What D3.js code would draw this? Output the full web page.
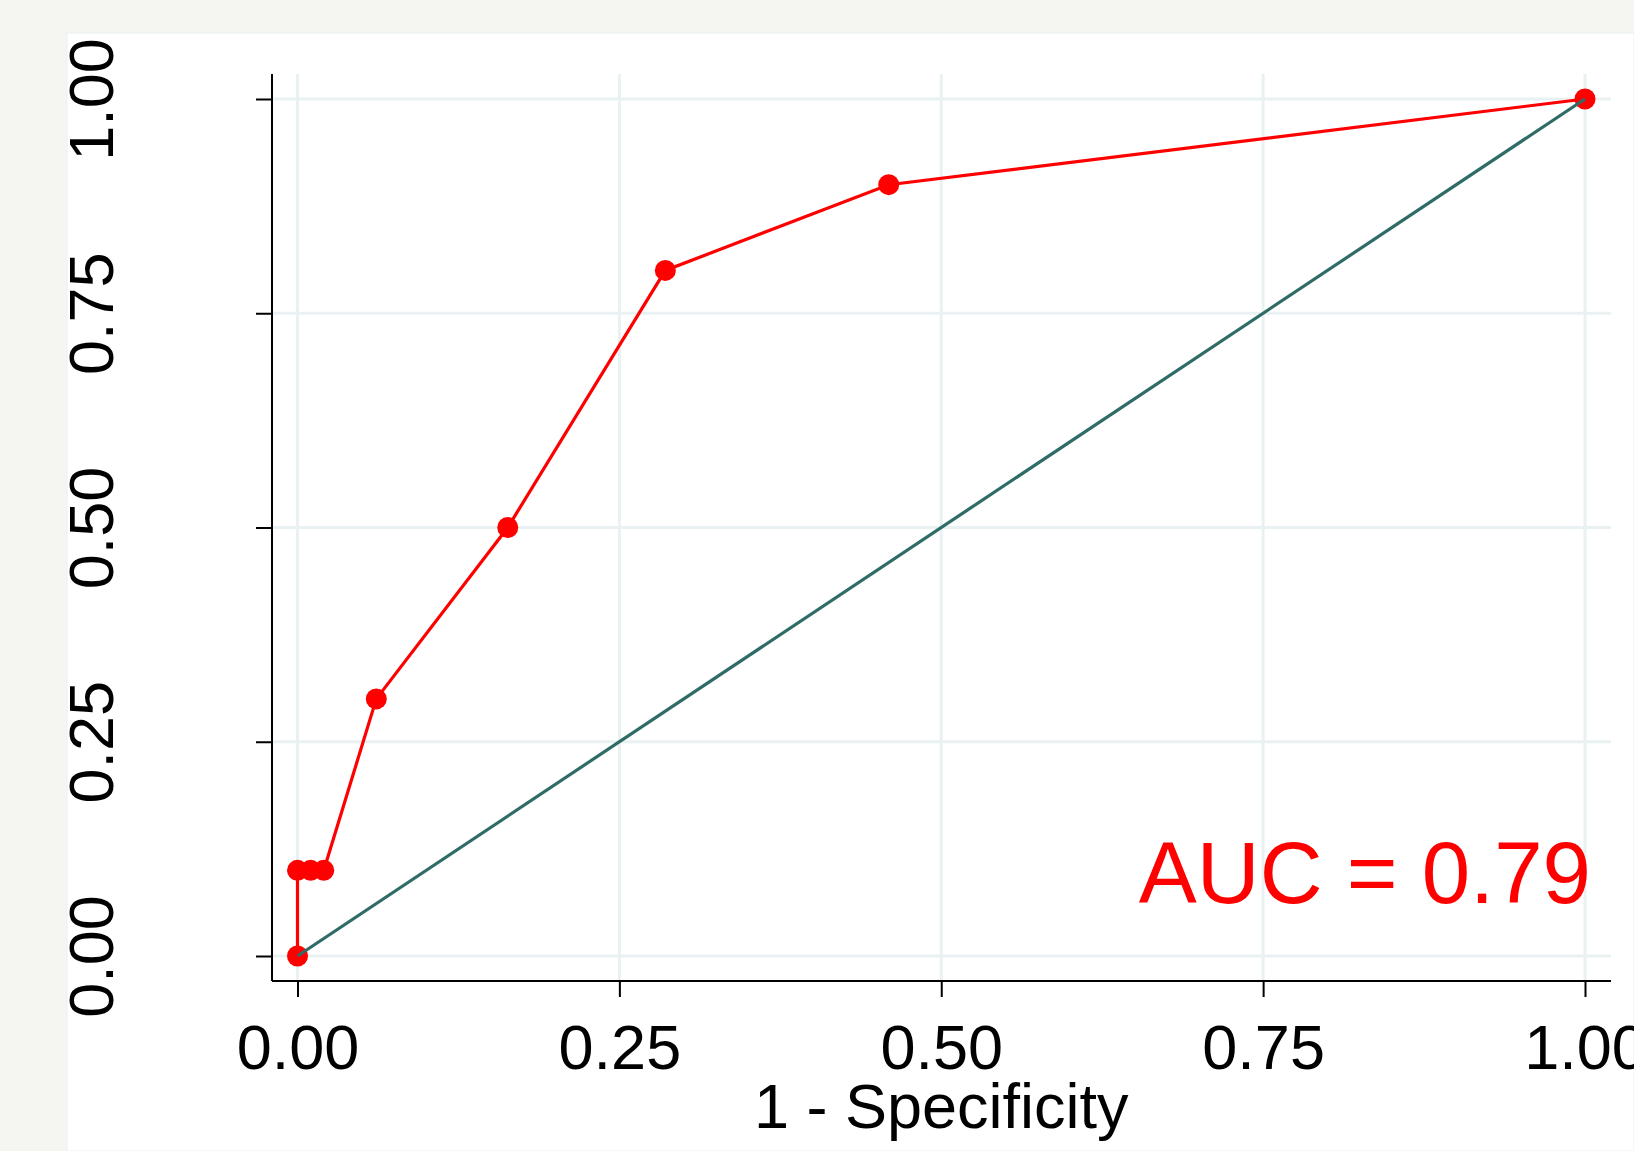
<!DOCTYPE html>
<html>
<head>
<meta charset="utf-8">
<script src="https://cdn.jsdelivr.net/npm/d3@7"></script>
<style>
  body { margin: 0; background: #f5f6f1; }
  svg { display: block; }
  text { font-family: "Liberation Sans", Arial, sans-serif; }
</style>
</head>
<body>
<div id="chart"></div>
<script>
//ROC points (1 - specificity, sensitivity)
var fpr = [0, 0, 0.0102, 0.0204, 0.0612, 0.1633, 0.2857, 0.4592, 1];
var tpr = [0, 0.1, 0.1, 0.1, 0.3, 0.5, 0.8, 0.9, 1];
var ticks = [0, 0.25, 0.5, 0.75, 1];
var aucLabel = "AUC = 0.79";
var xTitle = "1 - Specificity";

//Sizes
var w = 1634;
var h = 1151;

var svg = d3.select("#chart")
    .append("svg")
    .attr("width", w)
    .attr("height", h);

//Background
svg.append("rect")
    .attr("width", w)
    .attr("height", h)
    .attr("fill", "#f5f6f1");

svg.append("rect")
    .attr("x", 67)
    .attr("y", 33)
    .attr("width", w - 67)
    .attr("height", h - 33)
    .attr("fill", "#fff")
    .attr("stroke", "#eaf0f1")
    .attr("stroke-width", 1);

//Scales
var x = d3.scaleLinear().domain([0, 1]).range([297.5, 1585]);
var y = d3.scaleLinear().domain([0, 1]).range([956, 99]);

var plotLeft = 272, plotRight = 1611, plotTop = 74, plotBottom = 981;

//Grid
svg.append("g")
    .selectAll("line")
    .data(ticks)
    .join("line")
    .attr("x1", plotLeft)
    .attr("x2", plotRight)
    .attr("y1", d => y(d))
    .attr("y2", d => y(d))
    .attr("stroke", "#eaf1f2")
    .attr("stroke-width", 3);

svg.append("g")
    .selectAll("line")
    .data(ticks)
    .join("line")
    .attr("x1", d => x(d))
    .attr("x2", d => x(d))
    .attr("y1", plotTop)
    .attr("y2", plotBottom)
    .attr("stroke", "#eaf1f2")
    .attr("stroke-width", 3);

//Axes
var xAxis = svg.append("g")
    .attr("transform", `translate(0,${plotBottom})`)
    .call(d3.axisBottom(x).tickValues(ticks).tickSize(16).tickFormat(d3.format(".2f")));
xAxis.select(".domain").attr("d", `M${plotLeft},0H${plotRight}`).attr("stroke", "#000").attr("stroke-width", 2);
xAxis.selectAll(".tick line").attr("stroke", "#000").attr("stroke-width", 2);
xAxis.selectAll(".tick text")
    .attr("y", 88)
    .attr("dy", 0)
    .style("font-size", "63px")
    .attr("fill", "#000");

var yAxis = svg.append("g")
    .attr("transform", `translate(${plotLeft},0)`)
    .call(d3.axisLeft(y).tickValues(ticks).tickSize(16).tickFormat(d3.format(".2f")));
yAxis.select(".domain").attr("d", `M0,${plotTop}V${plotBottom}`).attr("stroke", "#000").attr("stroke-width", 2);
yAxis.selectAll(".tick line").attr("stroke", "#000").attr("stroke-width", 2);
yAxis.selectAll(".tick text")
    .attr("x", 0)
    .attr("dy", 0)
    .attr("text-anchor", "middle")
    .attr("transform", `translate(${113 - plotLeft},0) rotate(-90)`)
    .style("font-size", "63px")
    .attr("fill", "#000");

//Axis title
svg.append("text")
    .attr("x", (x(0) + x(1)) / 2)
    .attr("y", 1128)
    .attr("text-anchor", "middle")
    .style("font-size", "63px")
    .text(xTitle);

//ROC curve
var pts = fpr.map((d, i) => [d, tpr[i]]);

svg.append("path")
    .datum(pts)
    .attr("fill", "none")
    .attr("stroke", "#ff0000")
    .attr("stroke-width", 3.2)
    .attr("d", d3.line().x(d => x(d[0])).y(d => y(d[1])));

svg.append("g")
    .selectAll("circle")
    .data(pts)
    .join("circle")
    .attr("cx", d => x(d[0]))
    .attr("cy", d => y(d[1]))
    .attr("r", 10.5)
    .attr("fill", "#ff0000");

//Reference line
svg.append("line")
    .attr("x1", x(0))
    .attr("y1", y(0))
    .attr("x2", x(1))
    .attr("y2", y(1))
    .attr("stroke", "#2f6b67")
    .attr("stroke-width", 3.2);

//AUC label
svg.append("text")
    .attr("x", x(1) + 6)
    .attr("y", y(0.062))
    .attr("text-anchor", "end")
    .attr("fill", "#ff0000")
    .style("font-size", "87px")
    .text(aucLabel);
</script>
</body>
</html>
